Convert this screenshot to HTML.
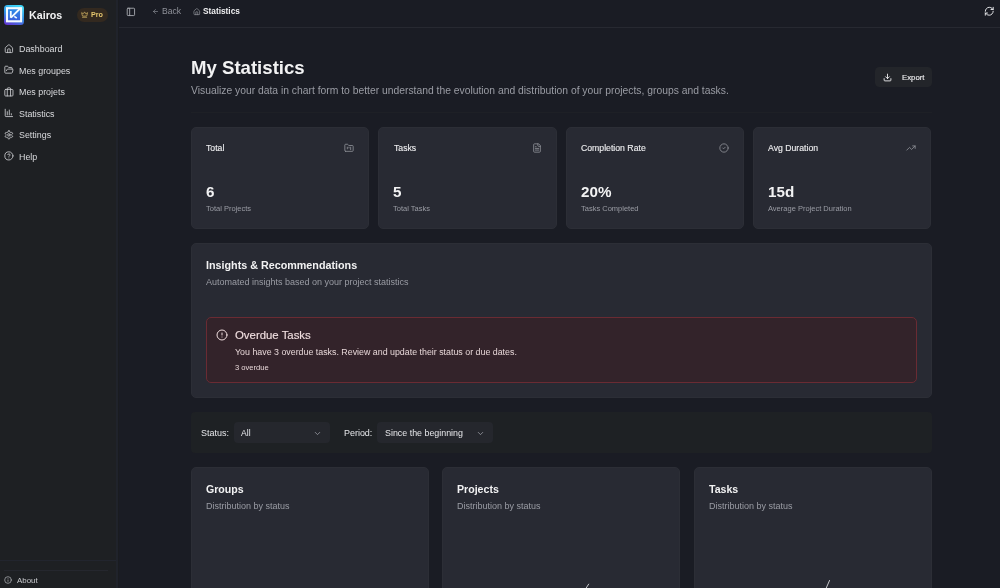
<!DOCTYPE html><html><head><meta charset="utf-8"><style>
html,body{margin:0;padding:0;width:1000px;height:588px;overflow:hidden;background:#1a1c24;font-family:"Liberation Sans",sans-serif;}
.t{position:absolute;white-space:nowrap;line-height:1;will-change:transform;}
.r{position:absolute;box-sizing:border-box;}
.i{position:absolute;overflow:visible;}
</style></head><body>
<div class="r" style="left:0px;top:0px;width:116px;height:588px;background:#1e2023;border-radius:0px;"></div>
<div class="r" style="left:116px;top:0px;width:2px;height:588px;background:#20232b;border-radius:0px;"></div>
<div class="r" style="left:118px;top:0px;width:1px;height:588px;background:#1a1c20;border-radius:0px;"></div>
<div class="r" style="left:0px;top:560px;width:116px;height:1px;background:#22252e;border-radius:0px;"></div>
<div class="r" style="left:4px;top:570px;width:104px;height:1px;background:#25272e;border-radius:0px;"></div>
<svg class="i" style="left:4px;top:5px;width:20px;height:20px" viewBox="0 0 20 20">
<defs><linearGradient id="lg" x1="0.6" y1="0" x2="0.2" y2="1"><stop offset="0" stop-color="#3fd6f7"/><stop offset="0.5" stop-color="#2f8fe6"/><stop offset="1" stop-color="#6236d2"/></linearGradient>
<linearGradient id="lg2" x1="0" y1="0" x2="0" y2="1"><stop offset="0" stop-color="#2c8ee8"/><stop offset="1" stop-color="#3a5ddc"/></linearGradient></defs>
<rect x="0" y="0" width="20" height="20" rx="3.5" fill="url(#lg)"/>
<rect x="3" y="3.2" width="14.1" height="13.1" fill="url(#lg2)" stroke="#f4fbff" stroke-width="2.1"/>
<path d="M6.8 6 L6.8 12.8" fill="none" stroke="#f4fbff" stroke-width="1.8"/>
<path d="M7 12.6 L16.6 3" fill="none" stroke="#f4fbff" stroke-width="1.8"/>
<path d="M10.3 11.3 L12.8 13.1" fill="none" stroke="#f4fbff" stroke-width="1.6"/>
</svg>
<div class="t" style="left:28.60px;top:10.44px;font-size:10.7px;font-weight:700;color:#f2f2f3;">Kairos</div>
<div class="r" style="left:77px;top:8px;width:31px;height:14px;background:#33291f;border-radius:7px;"></div>
<svg class="i" style="left:81.2px;top:11.2px;width:7.2px;height:7.2px" viewBox="0 0 24 24" fill="none" stroke="#e5c46c" stroke-width="2.2" stroke-linecap="round" stroke-linejoin="round"><path d="M11.562 3.266a.5.5 0 0 1 .876 0L15.39 8.87a1 1 0 0 0 1.516.294L21.183 5.5a.5.5 0 0 1 .798.519l-2.834 10.246a1 1 0 0 1-.956.734H5.81a1 1 0 0 1-.957-.734L2.02 6.02a.5.5 0 0 1 .798-.519l4.276 3.664a1 1 0 0 0 1.516-.294z"/><path d="M5 21h14"/></svg>
<div class="t" style="left:90.70px;top:11.41px;font-size:7.2px;font-weight:700;color:#e5c66e;">Pro</div>
<svg class="i" style="left:4.15px;top:43.75px;width:9.8px;height:9.8px" viewBox="0 0 24 24" fill="none" stroke="#c9cace" stroke-width="2.1" stroke-linecap="round" stroke-linejoin="round"><path d="M15 21v-8a1 1 0 0 0-1-1h-4a1 1 0 0 0-1 1v8"/><path d="M3 10a2 2 0 0 1 .709-1.528l7-5.999a2 2 0 0 1 2.582 0l7 5.999A2 2 0 0 1 21 10v9a2 2 0 0 1-2 2H5a2 2 0 0 1-2-2z"/></svg>
<div class="t" style="left:18.90px;top:44.97px;font-size:8.9px;font-weight:400;color:#d9dadd;">Dashboard</div>
<svg class="i" style="left:4.15px;top:65.28999999999999px;width:9.8px;height:9.8px" viewBox="0 0 24 24" fill="none" stroke="#c9cace" stroke-width="2.1" stroke-linecap="round" stroke-linejoin="round"><path d="m6 14 1.5-2.9A2 2 0 0 1 9.24 10H20a2 2 0 0 1 1.94 2.5l-1.54 6a2 2 0 0 1-1.95 1.5H4a2 2 0 0 1-2-2V5a2 2 0 0 1 2-2h3.9a2 2 0 0 1 1.69.9l.81 1.2a2 2 0 0 0 1.67.9H18a2 2 0 0 1 2 2v2"/></svg>
<div class="t" style="left:18.90px;top:66.97px;font-size:8.9px;font-weight:400;color:#d9dadd;">Mes groupes</div>
<svg class="i" style="left:4.15px;top:86.83px;width:9.8px;height:9.8px" viewBox="0 0 24 24" fill="none" stroke="#c9cace" stroke-width="2.1" stroke-linecap="round" stroke-linejoin="round"><path d="M8 6V4a2 2 0 0 1 2-2h4a2 2 0 0 1 2 2v2"/><path d="M8 6v16"/><path d="M16 6v16"/><rect x="2" y="6" width="20" height="16" rx="2"/></svg>
<div class="t" style="left:18.90px;top:87.97px;font-size:8.9px;font-weight:400;color:#d9dadd;">Mes projets</div>
<svg class="i" style="left:4.15px;top:108.37px;width:9.8px;height:9.8px" viewBox="0 0 24 24" fill="none" stroke="#c9cace" stroke-width="2.1" stroke-linecap="round" stroke-linejoin="round"><path d="M3 3v16a2 2 0 0 0 2 2h16"/><path d="M8 17V9"/><path d="M13 17V5"/><path d="M18 17v-3"/></svg>
<div class="t" style="left:18.90px;top:109.97px;font-size:8.9px;font-weight:400;color:#d9dadd;">Statistics</div>
<svg class="i" style="left:4.15px;top:129.91px;width:9.8px;height:9.8px" viewBox="0 0 24 24" fill="none" stroke="#c9cace" stroke-width="2.1" stroke-linecap="round" stroke-linejoin="round"><path d="M12.22 2h-.44a2 2 0 0 0-2 2v.18a2 2 0 0 1-1 1.73l-.43.25a2 2 0 0 1-2 0l-.15-.08a2 2 0 0 0-2.73.73l-.22.38a2 2 0 0 0 .73 2.73l.15.1a2 2 0 0 1 1 1.72v.51a2 2 0 0 1-1 1.74l-.15.09a2 2 0 0 0-.73 2.73l.22.38a2 2 0 0 0 2.73.73l.15-.08a2 2 0 0 1 2 0l.43.25a2 2 0 0 1 1 1.73V20a2 2 0 0 0 2 2h.44a2 2 0 0 0 2-2v-.18a2 2 0 0 1 1-1.73l.43-.25a2 2 0 0 1 2 0l.15.08a2 2 0 0 0 2.73-.73l.22-.39a2 2 0 0 0-.73-2.73l-.15-.08a2 2 0 0 1-1-1.74v-.5a2 2 0 0 1 1-1.74l.15-.09a2 2 0 0 0 .73-2.73l-.22-.38a2 2 0 0 0-2.73-.73l-.15.08a2 2 0 0 1-2 0l-.43-.25a2 2 0 0 1-1-1.73V4a2 2 0 0 0-2-2z"/><circle cx="12" cy="12" r="3"/></svg>
<div class="t" style="left:18.90px;top:130.97px;font-size:8.9px;font-weight:400;color:#d9dadd;">Settings</div>
<svg class="i" style="left:4.15px;top:151.45px;width:9.8px;height:9.8px" viewBox="0 0 24 24" fill="none" stroke="#c9cace" stroke-width="2.1" stroke-linecap="round" stroke-linejoin="round"><circle cx="12" cy="12" r="10"/><path d="M9.09 9a3 3 0 0 1 5.83 1c0 2-3 3-3 3"/><path d="M12 17h.01"/></svg>
<div class="t" style="left:18.90px;top:152.97px;font-size:8.9px;font-weight:400;color:#d9dadd;">Help</div>
<svg class="i" style="left:3.9px;top:576.2px;width:8px;height:8px" viewBox="0 0 24 24" fill="none" stroke="#b9bbc0" stroke-width="2" stroke-linecap="round" stroke-linejoin="round"><circle cx="12" cy="12" r="10"/><path d="M12 16v-4"/><path d="M12 8h.01"/></svg>
<div class="t" style="left:16.50px;top:576.81px;font-size:7.9px;font-weight:400;color:#c9cace;">About</div>
<div class="r" style="left:119px;top:27px;width:881px;height:1px;background:#272931;border-radius:0px;"></div>
<svg class="i" style="left:126.1px;top:6.7px;width:9.8px;height:9.8px" viewBox="0 0 24 24" fill="none" stroke="#a9abb2" stroke-width="2.2" stroke-linecap="round" stroke-linejoin="round"><rect width="18" height="18" x="3" y="3" rx="2"/><path d="M9 3v18"/></svg>
<svg class="i" style="left:151.8px;top:8.3px;width:7px;height:7px" viewBox="0 0 24 24" fill="none" stroke="#8f9199" stroke-width="2.2" stroke-linecap="round" stroke-linejoin="round"><path d="m12 19-7-7 7-7"/><path d="M19 12H5"/></svg>
<div class="t" style="left:161.70px;top:7.22px;font-size:8.6px;font-weight:400;color:#8f9199;">Back</div>
<svg class="i" style="left:193.1px;top:8.0px;width:7.6px;height:7.6px" viewBox="0 0 24 24" fill="none" stroke="#9c9ea5" stroke-width="2" stroke-linecap="round" stroke-linejoin="round"><path d="M15 21v-8a1 1 0 0 0-1-1h-4a1 1 0 0 0-1 1v8"/><path d="M3 10a2 2 0 0 1 .709-1.528l7-5.999a2 2 0 0 1 2.582 0l7 5.999A2 2 0 0 1 21 10v9a2 2 0 0 1-2 2H5a2 2 0 0 1-2-2z"/></svg>
<div class="t" style="left:202.90px;top:7.47px;font-size:8.3px;font-weight:700;color:#eeeef0;">Statistics</div>
<svg class="i" style="left:983.75px;top:6.25px;width:10.5px;height:10.5px" viewBox="0 0 24 24" fill="none" stroke="#e6e7ea" stroke-width="2.2" stroke-linecap="round" stroke-linejoin="round"><path d="M3 12a9 9 0 0 1 9-9 9.75 9.75 0 0 1 6.74 2.74L21 8"/><path d="M21 3v5h-5"/><path d="M21 12a9 9 0 0 1-9 9 9.75 9.75 0 0 1-6.74-2.74L3 16"/><path d="M8 16H3v5"/></svg>
<div class="t" style="left:191.30px;top:58.76px;font-size:18.6px;font-weight:700;color:#f2f2f3;">My Statistics</div>
<div class="t" style="left:191.30px;top:85.76px;font-size:10.33px;font-weight:400;color:#9a9ca4;">Visualize your data in chart form to better understand the evolution and distribution of your projects, groups and tasks.</div>
<div class="r" style="left:191px;top:112px;width:741px;height:1px;background:#1e2026;border-radius:0px;"></div>
<div class="r" style="left:875px;top:67px;width:56.5px;height:20px;background:#23252a;border-radius:4.5px;"></div>
<svg class="i" style="left:882.7px;top:72.5px;width:9px;height:9px" viewBox="0 0 24 24" fill="none" stroke="#eeeef0" stroke-width="2.4" stroke-linecap="round" stroke-linejoin="round"><path d="M12 15V3"/><path d="M21 15v4a2 2 0 0 1-2 2H5a2 2 0 0 1-2-2v-4"/><path d="m7 10 5 5 5-5"/></svg>
<div class="t" style="left:901.70px;top:73.90px;font-size:7.8px;font-weight:400;color:#f0f0f2;-webkit-text-stroke:0.12px #f0f0f2;">Export</div>
<div class="r" style="left:191.0px;top:127px;width:178.3px;height:102px;background:#282a33;border-radius:5px;border:1px solid #2c2e36;"></div>
<div class="t" style="left:206.20px;top:144.14px;font-size:8.7px;font-weight:400;color:#eeeef0;-webkit-text-stroke:0.12px #eeeef0;">Total</div>
<svg class="i" style="left:344.1px;top:143.2px;width:10px;height:10px" viewBox="0 0 24 24" fill="none" stroke="#8e9098" stroke-width="2" stroke-linecap="round" stroke-linejoin="round"><path d="M4 20h16a2 2 0 0 0 2-2V8a2 2 0 0 0-2-2h-7.93a2 2 0 0 1-1.66-.9l-.82-1.2A2 2 0 0 0 7.93 3H4a2 2 0 0 0-2 2v13c0 1.1.9 2 2 2Z"/><path d="M8 10v4"/><path d="M12 10v2"/><path d="M16 10v6"/></svg>
<div class="t" style="left:205.80px;top:183.63px;font-size:15.2px;font-weight:700;color:#f2f2f3;">6</div>
<div class="t" style="left:206.00px;top:205.15px;font-size:7.5px;font-weight:400;color:#9a9ca4;">Total Projects</div>
<div class="r" style="left:378.4px;top:127px;width:178.3px;height:102px;background:#282a33;border-radius:5px;border:1px solid #2c2e36;"></div>
<div class="t" style="left:393.60px;top:144.14px;font-size:8.7px;font-weight:400;color:#eeeef0;-webkit-text-stroke:0.12px #eeeef0;">Tasks</div>
<svg class="i" style="left:531.5px;top:143.2px;width:10px;height:10px" viewBox="0 0 24 24" fill="none" stroke="#8e9098" stroke-width="2" stroke-linecap="round" stroke-linejoin="round"><path d="M15 2H6a2 2 0 0 0-2 2v16a2 2 0 0 0 2 2h12a2 2 0 0 0 2-2V7Z"/><path d="M14 2v4a2 2 0 0 0 2 2h4"/><path d="M10 9H8"/><path d="M16 13H8"/><path d="M16 17H8"/></svg>
<div class="t" style="left:393.20px;top:183.63px;font-size:15.2px;font-weight:700;color:#f2f2f3;">5</div>
<div class="t" style="left:393.40px;top:205.15px;font-size:7.5px;font-weight:400;color:#9a9ca4;">Total Tasks</div>
<div class="r" style="left:565.8px;top:127px;width:178.3px;height:102px;background:#282a33;border-radius:5px;border:1px solid #2c2e36;"></div>
<div class="t" style="left:581.00px;top:144.14px;font-size:8.7px;font-weight:400;color:#eeeef0;-webkit-text-stroke:0.12px #eeeef0;">Completion Rate</div>
<svg class="i" style="left:718.9px;top:143.2px;width:10px;height:10px" viewBox="0 0 24 24" fill="none" stroke="#8e9098" stroke-width="2" stroke-linecap="round" stroke-linejoin="round"><circle cx="12" cy="12" r="10"/><path d="m9 12 2 2 4-4"/></svg>
<div class="t" style="left:580.60px;top:183.63px;font-size:15.2px;font-weight:700;color:#f2f2f3;">20%</div>
<div class="t" style="left:580.80px;top:205.15px;font-size:7.5px;font-weight:400;color:#9a9ca4;">Tasks Completed</div>
<div class="r" style="left:753.2px;top:127px;width:178.3px;height:102px;background:#282a33;border-radius:5px;border:1px solid #2c2e36;"></div>
<div class="t" style="left:768.40px;top:144.14px;font-size:8.7px;font-weight:400;color:#eeeef0;-webkit-text-stroke:0.12px #eeeef0;">Avg Duration</div>
<svg class="i" style="left:906.3px;top:143.2px;width:10px;height:10px" viewBox="0 0 24 24" fill="none" stroke="#8e9098" stroke-width="2" stroke-linecap="round" stroke-linejoin="round"><polyline points="22 7 13.5 15.5 8.5 10.5 2 17"/><polyline points="16 7 22 7 22 13"/></svg>
<div class="t" style="left:768.00px;top:183.63px;font-size:15.2px;font-weight:700;color:#f2f2f3;">15d</div>
<div class="t" style="left:768.20px;top:205.15px;font-size:7.5px;font-weight:400;color:#9a9ca4;">Average Project Duration</div>
<div class="r" style="left:191px;top:243px;width:740.5px;height:155px;background:#282a33;border-radius:5px;border:1px solid #2c2e36;"></div>
<div class="t" style="left:205.50px;top:260.40px;font-size:10.75px;font-weight:700;color:#f2f2f3;">Insights &amp; Recommendations</div>
<div class="t" style="left:205.50px;top:277.88px;font-size:9.0px;font-weight:400;color:#9a9ca4;">Automated insights based on your project statistics</div>
<div class="r" style="left:206px;top:316.5px;width:711px;height:66.5px;background:#33232a;border-radius:5px;border:1px solid #6a2b33;"></div>
<svg class="i" style="left:216.2px;top:328.6px;width:12px;height:12px" viewBox="0 0 24 24" fill="none" stroke="#f1dfe0" stroke-width="2" stroke-linecap="round" stroke-linejoin="round"><circle cx="12" cy="12" r="10"/><line x1="12" x2="12" y1="8" y2="12"/><line x1="12" x2="12.01" y1="16" y2="16"/></svg>
<div class="t" style="left:235.40px;top:329.85px;font-size:11.4px;font-weight:400;color:#f1dfe0;-webkit-text-stroke:0.12px #f1dfe0;">Overdue Tasks</div>
<div class="t" style="left:235.40px;top:348.01px;font-size:8.85px;font-weight:400;color:#e6d6d7;">You have 3 overdue tasks. Review and update their status or due dates.</div>
<div class="t" style="left:235.40px;top:364.07px;font-size:7.6px;font-weight:400;color:#e6d6d7;">3 overdue</div>
<div class="r" style="left:191px;top:412px;width:740.5px;height:41px;background:#1e2124;border-radius:4px;"></div>
<div class="t" style="left:200.50px;top:428.88px;font-size:9.0px;font-weight:400;color:#e6e7ea;">Status:</div>
<div class="r" style="left:233.8px;top:422px;width:96px;height:21px;background:#25272d;border-radius:4px;"></div>
<div class="t" style="left:240.70px;top:429.22px;font-size:8.6px;font-weight:400;color:#e6e7ea;">All</div>
<svg class="i" style="left:313.3px;top:428.6px;width:9px;height:9px" viewBox="0 0 24 24" fill="none" stroke="#a0a2a9" stroke-width="2" stroke-linecap="round" stroke-linejoin="round"><path d="m6 9 6 6 6-6"/></svg>
<div class="t" style="left:343.80px;top:428.92px;font-size:8.95px;font-weight:400;color:#e6e7ea;">Period:</div>
<div class="r" style="left:377.4px;top:422px;width:115.2px;height:21px;background:#25272d;border-radius:4px;"></div>
<div class="t" style="left:384.60px;top:428.97px;font-size:8.9px;font-weight:400;color:#e6e7ea;">Since the beginning</div>
<svg class="i" style="left:476.2px;top:428.6px;width:9px;height:9px" viewBox="0 0 24 24" fill="none" stroke="#a0a2a9" stroke-width="2" stroke-linecap="round" stroke-linejoin="round"><path d="m6 9 6 6 6-6"/></svg>
<div class="r" style="left:191.0px;top:467px;width:237.9px;height:140px;background:#282a33;border-radius:5px;border:1px solid #2c2e36;"></div>
<div class="t" style="left:206.00px;top:483.53px;font-size:10.6px;font-weight:700;color:#f2f2f3;">Groups</div>
<div class="t" style="left:206.00px;top:501.88px;font-size:9.0px;font-weight:400;color:#9a9ca4;">Distribution by status</div>
<div class="r" style="left:442.35px;top:467px;width:237.9px;height:140px;background:#282a33;border-radius:5px;border:1px solid #2c2e36;"></div>
<div class="t" style="left:457.35px;top:483.53px;font-size:10.6px;font-weight:700;color:#f2f2f3;">Projects</div>
<div class="t" style="left:457.35px;top:501.88px;font-size:9.0px;font-weight:400;color:#9a9ca4;">Distribution by status</div>
<div class="r" style="left:693.7px;top:467px;width:237.9px;height:140px;background:#282a33;border-radius:5px;border:1px solid #2c2e36;"></div>
<div class="t" style="left:708.70px;top:483.53px;font-size:10.6px;font-weight:700;color:#f2f2f3;">Tasks</div>
<div class="t" style="left:708.70px;top:501.88px;font-size:9.0px;font-weight:400;color:#9a9ca4;">Distribution by status</div>
<svg class="i" style="left:0;top:0;width:1000px;height:588px" viewBox="0 0 1000 588"><path d="M585.8 588.5 L588.9 583.8" stroke="#c8c9cd" stroke-width="1"/><path d="M826 588.5 L829.7 580.1" stroke="#c8c9cd" stroke-width="1"/></svg>
</body></html>
